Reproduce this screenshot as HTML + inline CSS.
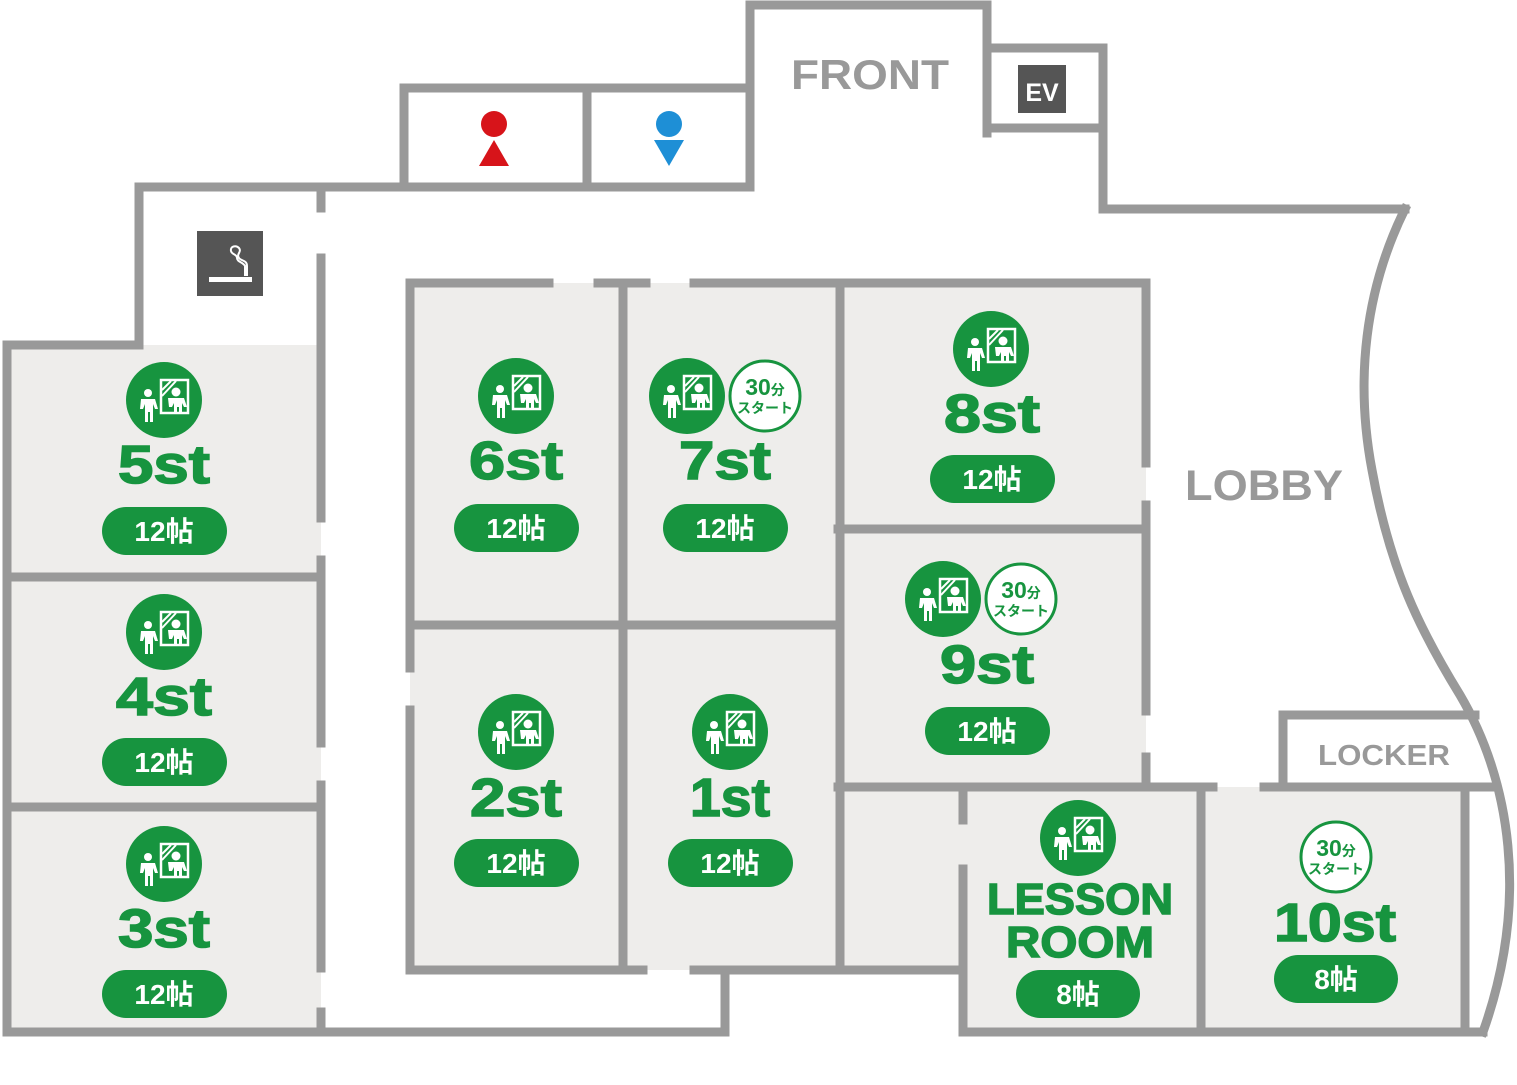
<!DOCTYPE html>
<html><head><meta charset="utf-8"><style>
html,body{margin:0;padding:0;background:#fff}
svg{display:block}
.n{font-family:"Liberation Sans",sans-serif;font-weight:bold;fill:#17943f;stroke:#17943f;stroke-width:1.5;text-anchor:middle}
.p{font-family:"Liberation Sans","Noto Sans CJK JP",sans-serif;font-weight:bold;fill:#fff;text-anchor:middle;font-size:28px}
.g{font-family:"Liberation Sans",sans-serif;font-weight:bold;fill:#999;text-anchor:middle}
.b{font-family:"Liberation Sans","Noto Sans CJK JP",sans-serif;font-weight:bold;fill:#17943f;text-anchor:middle}
</style></head><body>
<svg width="1517" height="1085" viewBox="0 0 1517 1085" xmlns="http://www.w3.org/2000/svg">
<defs>
<g id="ic">
<circle r="38" fill="#17943f"/>
<circle cx="-16" cy="-7" r="4" fill="#fff"/>
<path d="M-23,-1 h14 l3,10 h-3 l-2,-5 v18 h-3 v-10 h-2 v10 h-3 v-18 l-2,5 h-3 z" fill="#fff"/>
<rect x="-3" y="-20" width="27" height="33" fill="none" stroke="#fff" stroke-width="2.5"/>
<path d="M-2,-10 l9,-9 M-2,-4 l14,-15" stroke="#fff" stroke-width="2"/>
<circle cx="12" cy="-8" r="4.5" fill="#fff"/>
<path d="M4,-2 h16 l3,9 h-3 l-2,-4 v10 h-3 v-6 h-2 v6 h-3 v-10 l-2,4 h-3 z" fill="#fff"/>
</g>
</defs>
<g fill="#eeedeb">
<rect x="7" y="345" width="314" height="687"/>
<rect x="410" y="283" width="428" height="687"/>
<rect x="838" y="283" width="308" height="504"/>
<rect x="838" y="787" width="627" height="183"/>
<rect x="963" y="970" width="502" height="62"/>
</g>
<g stroke="#999" stroke-width="9" fill="none" stroke-linecap="square">
<polyline points="139,345 7,345 7,1032 725,1032 725,970"/>
<polyline points="139,345 139,187 750,187"/>
<polyline points="404,187 404,88 750,88"/>
<line x1="587" y1="88" x2="587" y2="187"/>
<polyline points="750,187 750,5 987,5 987,133"/>
<polyline points="987,48 1103,48 1103,209 1405,209"/>
<line x1="987" y1="128" x2="1103" y2="128"/>
<path d="M1405,209 C1365,290 1355,380 1372,470 C1390,570 1420,630 1460,695 C1510,780 1530,900 1483,1032"/>
<line x1="321" y1="187" x2="321" y2="208"/>
<line x1="321" y1="258" x2="321" y2="518"/>
<line x1="321" y1="560" x2="321" y2="743"/>
<line x1="321" y1="785" x2="321" y2="968"/>
<line x1="321" y1="1012" x2="321" y2="1032"/>
<line x1="7" y1="577" x2="321" y2="577"/>
<line x1="7" y1="807" x2="321" y2="807"/>
<line x1="410" y1="283" x2="549" y2="283"/>
<line x1="598" y1="283" x2="646" y2="283"/>
<line x1="694" y1="283" x2="1146" y2="283"/>
<line x1="410" y1="283" x2="410" y2="668"/>
<line x1="410" y1="710" x2="410" y2="970"/>
<line x1="410" y1="970" x2="643" y2="970"/>
<line x1="694" y1="970" x2="963" y2="970"/>
<line x1="623" y1="283" x2="623" y2="970"/>
<line x1="410" y1="625" x2="838" y2="625"/>
<line x1="840" y1="283" x2="840" y2="970"/>
<line x1="1146" y1="283" x2="1146" y2="463"/>
<line x1="1146" y1="505" x2="1146" y2="711"/>
<line x1="1146" y1="757" x2="1146" y2="787"/>
<line x1="838" y1="529" x2="1146" y2="529"/>
<line x1="838" y1="787" x2="1213" y2="787"/>
<line x1="1264" y1="787" x2="1490" y2="787"/>
<polyline points="1283,787 1283,715 1475,715"/>
<line x1="963" y1="787" x2="963" y2="820"/>
<line x1="963" y1="869" x2="963" y2="1032"/>
<line x1="963" y1="1032" x2="1483" y2="1032"/>
<line x1="1201" y1="787" x2="1201" y2="1032"/>
<line x1="1465" y1="787" x2="1465" y2="1032"/>
</g>
<circle cx="494" cy="124" r="13" fill="#d7141a"/>
<path d="M494,140 L509,166 L479,166 Z" fill="#d7141a"/>
<circle cx="669" cy="124" r="13" fill="#1e8fd6"/>
<path d="M654,140 L684,140 L669,166 Z" fill="#1e8fd6"/>
<rect x="197" y="231" width="66" height="65" fill="#555"/>
<g stroke="#fff" stroke-width="2" fill="none">
<rect x="209" y="277" width="43" height="5" fill="#fff" stroke="none"/>
<path d="M247,276 v-10 c0,-6 -6,-5 -8,-8 c-3,-4 3,-6 0,-10 c-3,-3 -9,-2 -8,3 c1,4 6,3 6,7 c0,4 6,4 8,8 v10"/>
</g>
<rect x="1018" y="65" width="48" height="48" fill="#555"/>
<text x="1042" y="101" font-family="Liberation Sans,sans-serif" font-weight="bold" font-size="25" fill="#fff" text-anchor="middle">EV</text>
<text class="g" x="870" y="89" font-size="42" textLength="158" lengthAdjust="spacingAndGlyphs">FRONT</text>
<text class="g" x="1264" y="500" font-size="43" textLength="158" lengthAdjust="spacingAndGlyphs">LOBBY</text>
<text class="g" x="1384" y="765" font-size="29" textLength="132" lengthAdjust="spacingAndGlyphs">LOCKER</text>

<g>
<use href="#ic" x="164" y="400"/>
<text class="n" x="164" y="483" font-size="54" textLength="92" lengthAdjust="spacingAndGlyphs">5st</text>
<rect x="102" y="507" width="125" height="48" rx="24" fill="#17943f"/><text class="p" x="164" y="541">12帖</text>

<use href="#ic" x="164" y="632"/>
<text class="n" x="164" y="715" font-size="54" textLength="96" lengthAdjust="spacingAndGlyphs">4st</text>
<rect x="102" y="738" width="125" height="48" rx="24" fill="#17943f"/><text class="p" x="164" y="772">12帖</text>

<use href="#ic" x="164" y="864"/>
<text class="n" x="164" y="947" font-size="54" textLength="92" lengthAdjust="spacingAndGlyphs">3st</text>
<rect x="102" y="970" width="125" height="48" rx="24" fill="#17943f"/><text class="p" x="164" y="1004">12帖</text>

<use href="#ic" x="516" y="396"/>
<text class="n" x="516" y="479" font-size="54" textLength="94" lengthAdjust="spacingAndGlyphs">6st</text>
<rect x="454" y="504" width="125" height="48" rx="24" fill="#17943f"/><text class="p" x="516" y="538">12帖</text>

<use href="#ic" x="687" y="396"/>
<circle cx="765" cy="396" r="35" fill="#fff" stroke="#17943f" stroke-width="3"/>
<text class="b" x="765" y="395" font-size="23">30<tspan font-size="14">分</tspan></text>
<text class="b" x="765" y="413" font-size="14">スタート</text>
<text class="n" x="725" y="479" font-size="54" textLength="92" lengthAdjust="spacingAndGlyphs">7st</text>
<rect x="663" y="504" width="125" height="48" rx="24" fill="#17943f"/><text class="p" x="725" y="538">12帖</text>

<use href="#ic" x="991" y="349"/>
<text class="n" x="992" y="432" font-size="54" textLength="96" lengthAdjust="spacingAndGlyphs">8st</text>
<rect x="930" y="455" width="125" height="48" rx="24" fill="#17943f"/><text class="p" x="992" y="489">12帖</text>

<use href="#ic" x="943" y="599"/>
<circle cx="1021" cy="599" r="35" fill="#fff" stroke="#17943f" stroke-width="3"/>
<text class="b" x="1021" y="598" font-size="23">30<tspan font-size="14">分</tspan></text>
<text class="b" x="1021" y="616" font-size="14">スタート</text>
<text class="n" x="987" y="683" font-size="54" textLength="94" lengthAdjust="spacingAndGlyphs">9st</text>
<rect x="925" y="707" width="125" height="48" rx="24" fill="#17943f"/><text class="p" x="987" y="741">12帖</text>

<use href="#ic" x="516" y="732"/>
<text class="n" x="516" y="816" font-size="54" textLength="92" lengthAdjust="spacingAndGlyphs">2st</text>
<rect x="454" y="839" width="125" height="48" rx="24" fill="#17943f"/><text class="p" x="516" y="873">12帖</text>

<use href="#ic" x="730" y="732"/>
<text class="n" x="730" y="816" font-size="54" textLength="80" lengthAdjust="spacingAndGlyphs">1st</text>
<rect x="668" y="839" width="125" height="48" rx="24" fill="#17943f"/><text class="p" x="730" y="873">12帖</text>

<use href="#ic" x="1078" y="838"/>
<text class="n" x="1080" y="914" font-size="44" textLength="186" lengthAdjust="spacingAndGlyphs">LESSON</text>
<text class="n" x="1080" y="957" font-size="44" textLength="148" lengthAdjust="spacingAndGlyphs">ROOM</text>
<rect x="1016" y="970" width="124" height="48" rx="24" fill="#17943f"/><text class="p" x="1078" y="1004">8帖</text>

<circle cx="1336" cy="857" r="35" fill="#fff" stroke="#17943f" stroke-width="3"/>
<text class="b" x="1336" y="856" font-size="23">30<tspan font-size="14">分</tspan></text>
<text class="b" x="1336" y="874" font-size="14">スタート</text>
<text class="n" x="1335" y="941" font-size="54" textLength="122" lengthAdjust="spacingAndGlyphs">10st</text>
<rect x="1274" y="955" width="124" height="48" rx="24" fill="#17943f"/><text class="p" x="1336" y="989">8帖</text>
</g>
</svg>
</body></html>
